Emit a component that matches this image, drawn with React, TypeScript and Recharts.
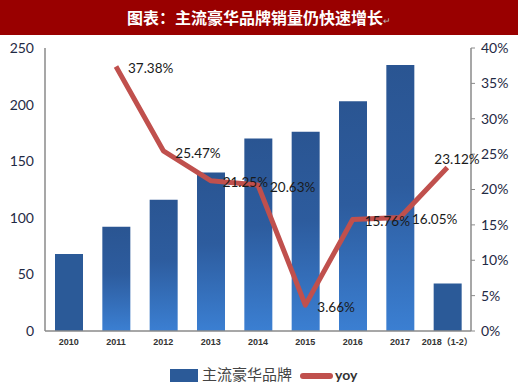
import React from 'react';
import { ComposedChart, Bar, Line, XAxis, YAxis, Cell, LabelList, Legend } from 'recharts';

const categories = ['2010', '2011', '2012', '2013', '2014', '2015', '2016', '2017', '2018（1-2）'];
const sales = [68, 92, 116, 140, 170, 176, 203, 235, 42];
const yoy = [null, 0.3738, 0.2547, 0.2125, 0.2063, 0.0366, 0.1576, 0.1605, 0.2312];
const leftTicks = [0, 50, 100, 150, 200, 250];
const rightTicks = [0, 0.05, 0.1, 0.15, 0.2, 0.25, 0.3, 0.35, 0.4];

const data = categories.map((c, i) => ({ name: c, sales: sales[i], yoy: yoy[i] }));

const YoyLabel = (props: any) => {
  const { x, y, value, index } = props;
  if (value == null) return null;
  const last = index === categories.length - 1;
  const tx = last ? x - 13 : x + 12;
  const ty = last ? y - 8 : y + 2;
  return (
    <text x={tx} y={ty} dy="0.35em" fontSize={13.5} fill="#1a1a1a" fontFamily="Lato, 'Open Sans', sans-serif">
      {(value * 100).toFixed(2) + '%'}
    </text>
  );
};

const LegendContent = () => (
  <div style={{ position: 'relative', width: 520, height: 18, fontFamily: "'Noto Sans CJK SC', sans-serif" }}>
    <div style={{ position: 'absolute', left: 170, top: 3, width: 28, height: 13, background: '#2b5a98' }} />
    <div style={{ position: 'absolute', left: 202, top: -3, fontSize: 15, color: '#444', lineHeight: '22px' }}>主流豪华品牌</div>
    <div style={{ position: 'absolute', left: 300, top: 7, width: 33, height: 6, borderRadius: 3, background: '#c0504d' }} />
    <div style={{ position: 'absolute', left: 335, top: 1, fontSize: 14, fontWeight: 'bold', color: '#333', lineHeight: '16px', fontFamily: 'Lato, sans-serif' }}>yoy</div>
  </div>
);

export default function App() {
  return (
    <div style={{ position: 'absolute', left: 0, top: 0, width: 520, height: 384, background: '#fff', overflow: 'hidden' }}>
      <div style={{ position: 'absolute', left: 0, top: 0, width: 518, height: 35, background: '#990000', color: '#fff', fontFamily: "'Noto Sans CJK SC', sans-serif", fontWeight: 'bold', fontSize: 16, lineHeight: '35px', textAlign: 'center' }}>
        图表：主流豪华品牌销量仍快速增长<span style={{ fontSize: 9, color: '#bbb', fontWeight: 'normal' }}>↵</span>
      </div>
      <ComposedChart width={520} height={384} data={data} margin={{ top: 48, right: 0, bottom: 0, left: 0 }}>
        <defs>
          <linearGradient id="barGrad" x1="0" y1="0" x2="0" y2="1">
            <stop offset="0%" stopColor="#2a5592" />
            <stop offset="45%" stopColor="#2d5c9e" />
            <stop offset="100%" stopColor="#3b7fd2" />
          </linearGradient>
        </defs>
        <XAxis dataKey="name" height={53} tickLine={false} axisLine={{ stroke: '#8a8a8a', strokeWidth: 1.5 }} interval={0}
          tick={{ fontSize: 9, fill: '#333', fontWeight: 'bold', fontFamily: "'Liberation Sans', 'Noto Sans CJK SC', sans-serif" }} tickMargin={2} />
        <YAxis yAxisId="left" orientation="left" width={45} domain={[0, 250]} ticks={leftTicks} interval={0} tickLine={false}
          axisLine={{ stroke: '#8a8a8a', strokeWidth: 1.5 }} tickMargin={5}
          tick={{ fontSize: 14, fill: '#1f2a44', fontFamily: 'Lato, sans-serif' }} />
        <YAxis yAxisId="right" orientation="right" width={49} domain={[0, 0.4]} ticks={rightTicks} interval={0} tickSize={4}
          tickLine={{ stroke: '#8a8a8a' }} axisLine={{ stroke: '#8a8a8a', strokeWidth: 1.5 }} tickMargin={6}
          tickFormatter={(v: number) => Math.round(v * 100) + '%'}
          tick={{ fontSize: 14, fill: '#1f2a44', fontFamily: 'Lato, sans-serif' }} />
        <Legend verticalAlign="middle" align="center" layout="horizontal" content={<LegendContent />}
          wrapperStyle={{ position: 'absolute', top: 366, left: 0, width: 520 }} />
        <Bar yAxisId="left" dataKey="sales" name="主流豪华品牌" barSize={28} isAnimationActive={false}>
          {data.map((d, i) => (
            <Cell key={i} fill={i === 0 || i === categories.length - 1 ? '#2b5a98' : 'url(#barGrad)'} />
          ))}
        </Bar>
        <Line yAxisId="right" dataKey="yoy" name="yoy" type="linear" stroke="#c0504d" strokeWidth={5} dot={false}
          isAnimationActive={false} connectNulls={false} strokeLinejoin="round">
          <LabelList dataKey="yoy" content={<YoyLabel />} />
        </Line>
      </ComposedChart>
    </div>
  );
}
